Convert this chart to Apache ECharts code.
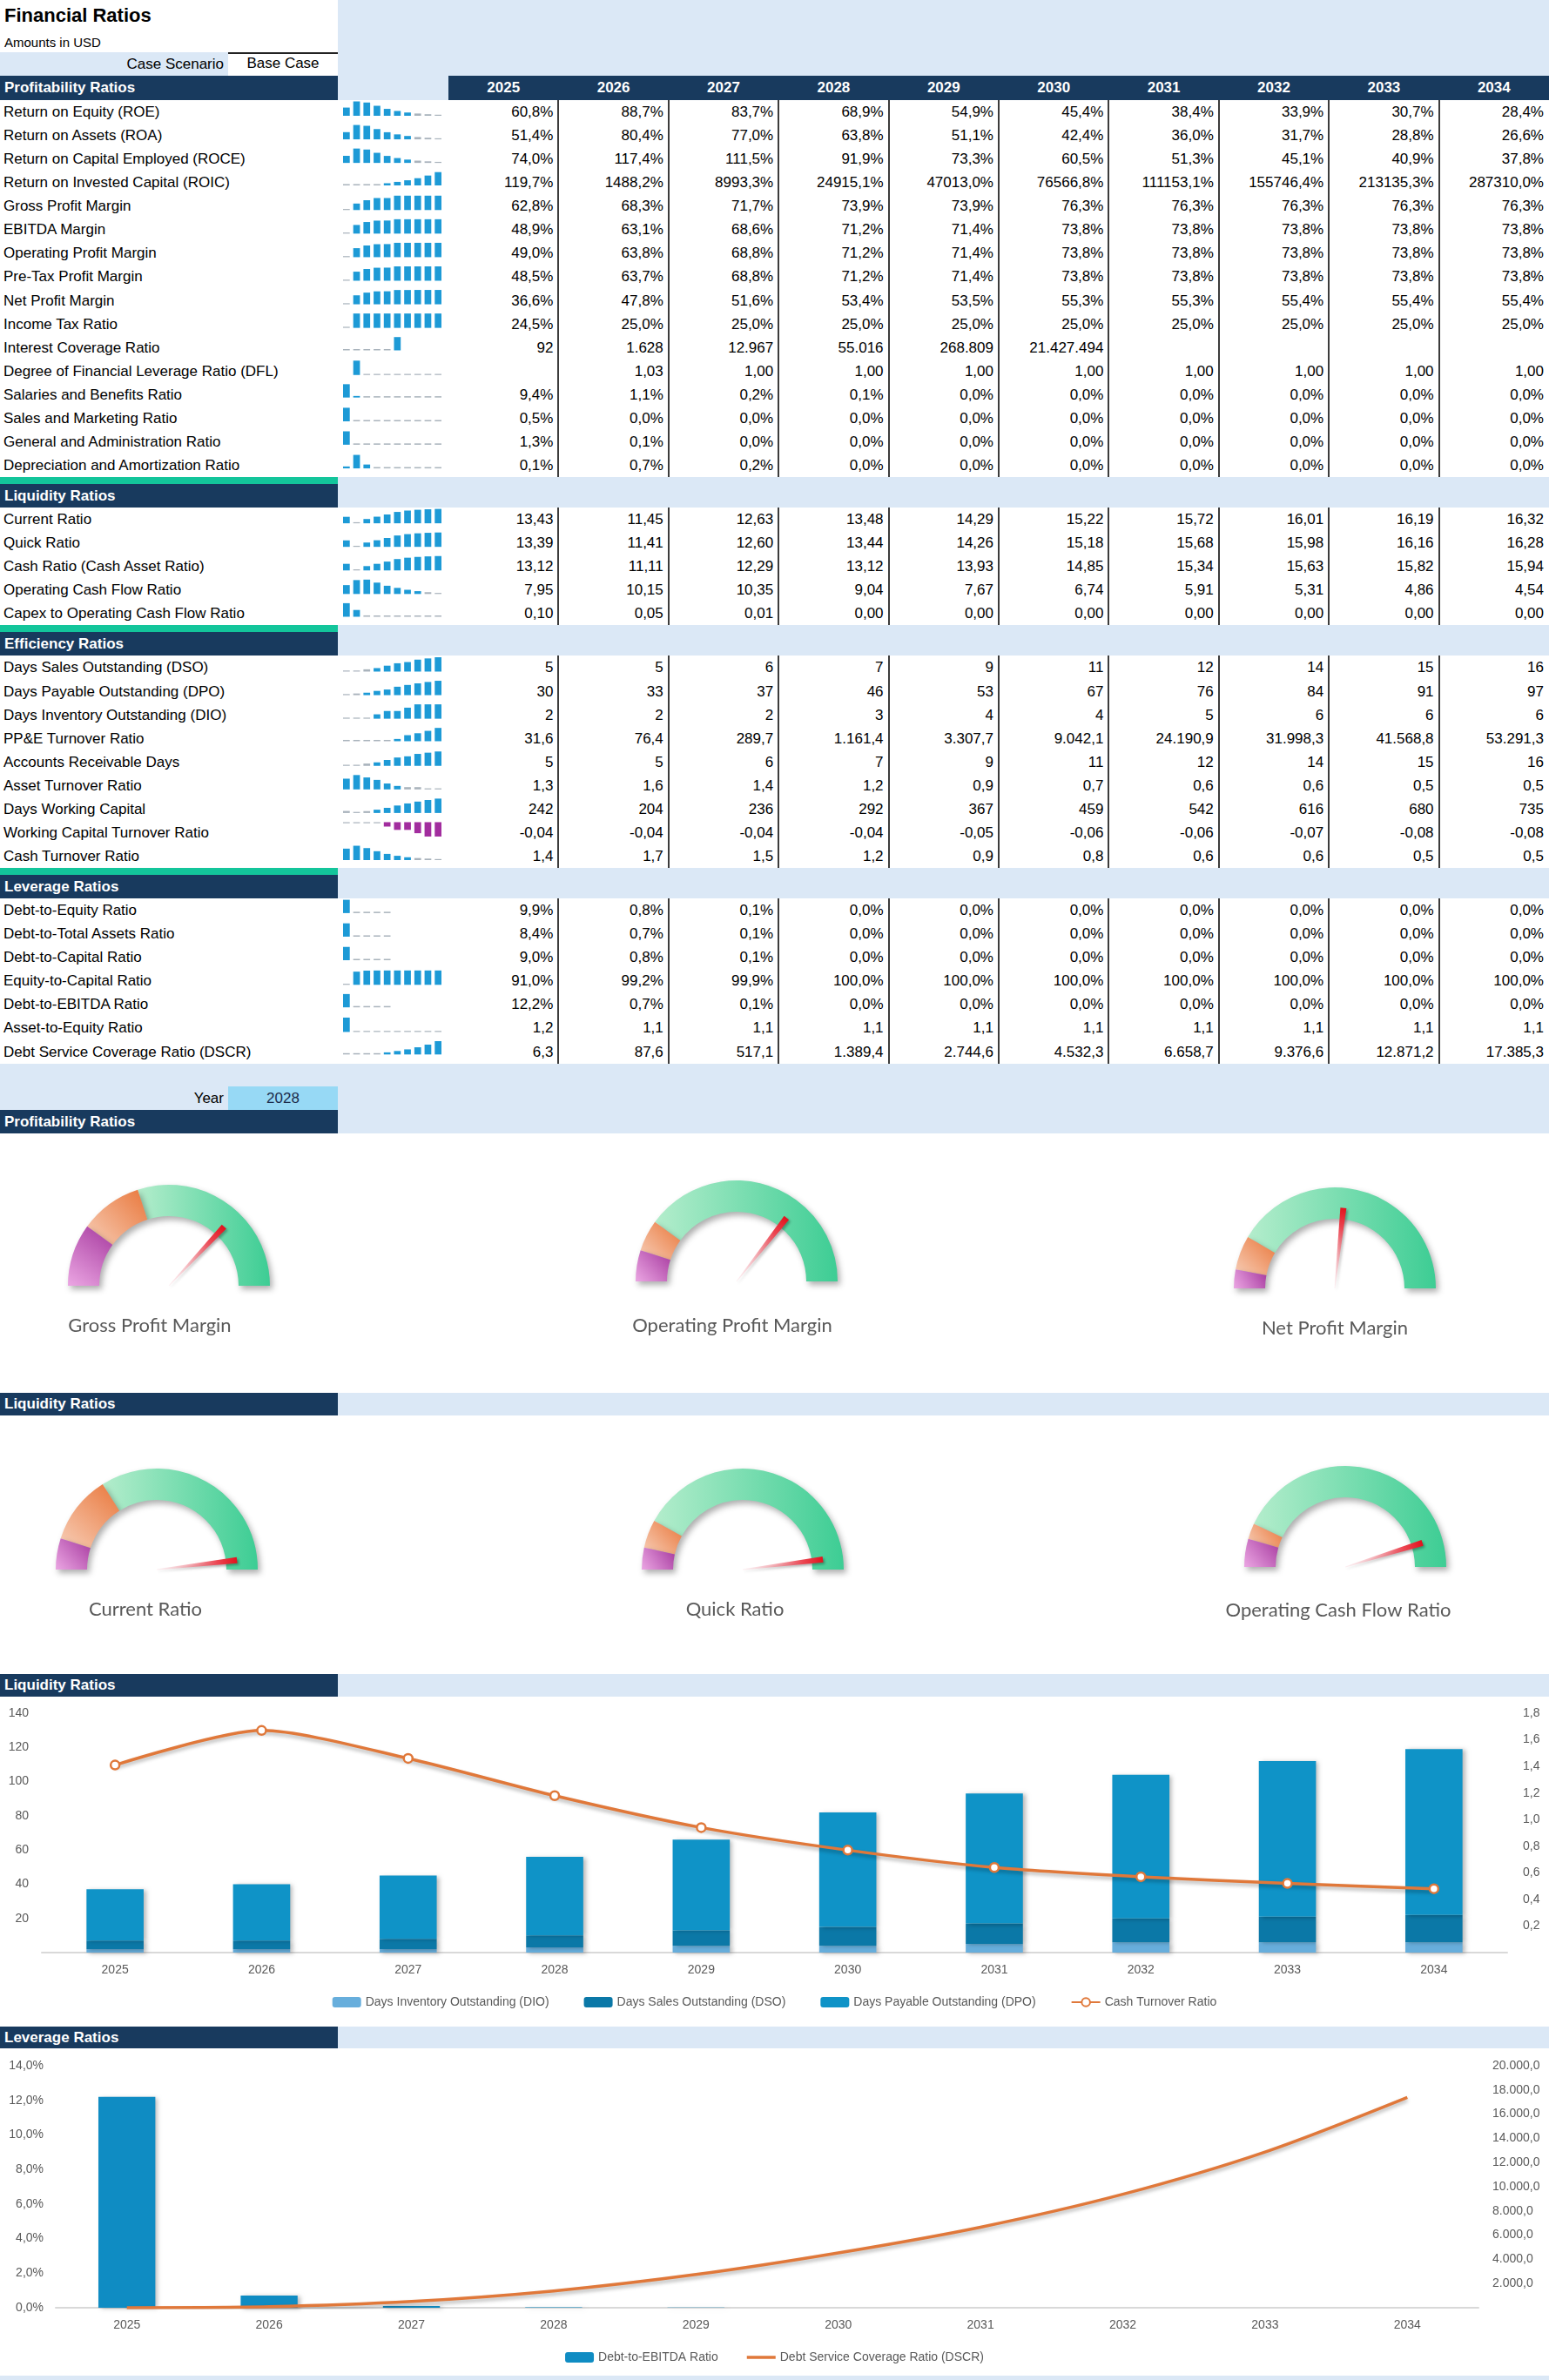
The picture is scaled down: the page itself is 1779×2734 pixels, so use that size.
<!DOCTYPE html>
<html>
<head>
<meta charset="utf-8">
<title>Financial Ratios</title>
<script src="https://cdn.jsdelivr.net/npm/echarts@6/dist/echarts.min.js"></script>
<style>
  html, body { margin: 0; padding: 0; background: #fff; }
  #page { position: relative; width: 1779px; height: 2734px; overflow: hidden;
    font-family: "Liberation Sans Narrow", "Liberation Sans", Arial, sans-serif; color: #000; }
  .abs { position: absolute; box-sizing: border-box; white-space: nowrap; overflow: visible; }
  #chart { position: absolute; left: 0; top: 0; width: 1779px; height: 2734px; z-index: 5; }
</style>
</head>
<body>
<div id="page"><div id="chart"></div></div>
<script>
// ---- data ----
const years = ['2025', '2026', '2027', '2028', '2029', '2030', '2031', '2032', '2033', '2034'];
const selectedYear = '2028';

// profitability
const roe = [60.8, 88.7, 83.7, 68.9, 54.9, 45.4, 38.4, 33.9, 30.7, 28.4];
const roa = [51.4, 80.4, 77.0, 63.8, 51.1, 42.4, 36.0, 31.7, 28.8, 26.6];
const roce = [74.0, 117.4, 111.5, 91.9, 73.3, 60.5, 51.3, 45.1, 40.9, 37.8];
const roic = [119.7, 1488.2, 8993.3, 24915.1, 47013.0, 76566.8, 111153.1, 155746.4, 213135.3, 287310.0];
const grossMargin = [62.8, 68.3, 71.7, 73.9, 73.9, 76.3, 76.3, 76.3, 76.3, 76.3];
const ebitdaMargin = [48.9, 63.1, 68.6, 71.2, 71.4, 73.8, 73.8, 73.8, 73.8, 73.8];
const operatingMargin = [49.0, 63.8, 68.8, 71.2, 71.4, 73.8, 73.8, 73.8, 73.8, 73.8];
const preTaxMargin = [48.5, 63.7, 68.8, 71.2, 71.4, 73.8, 73.8, 73.8, 73.8, 73.8];
const netMargin = [36.6, 47.8, 51.6, 53.4, 53.5, 55.3, 55.3, 55.4, 55.4, 55.4];
const incomeTax = [24.5, 25.0, 25.0, 25.0, 25.0, 25.0, 25.0, 25.0, 25.0, 25.0];
const interestCoverage = [92, 1628, 12967, 55016, 268809, 21427494, null, null, null, null];
const dfl = [null, 1.03, 1.00, 1.00, 1.00, 1.00, 1.00, 1.00, 1.00, 1.00];
const salariesRatio = [9.4, 1.1, 0.2, 0.1, 0.04, 0.03, 0.03, 0.02, 0.02, 0.02];
const salesMarketing = [0.5, 0.02, 0.01, 0.01, 0.01, 0.01, 0.01, 0.01, 0.01, 0.01];
const adminRatio = [1.3, 0.1, 0.03, 0.02, 0.02, 0.01, 0.01, 0.01, 0.01, 0.01];
const deprRatio = [0.1, 0.7, 0.2, 0.03, 0.02, 0.02, 0.01, 0.01, 0.01, 0.01];

// liquidity
const currentRatio = [13.43, 11.45, 12.63, 13.48, 14.29, 15.22, 15.72, 16.01, 16.19, 16.32];
const quickRatio = [13.39, 11.41, 12.60, 13.44, 14.26, 15.18, 15.68, 15.98, 16.16, 16.28];
const cashRatio = [13.12, 11.11, 12.29, 13.12, 13.93, 14.85, 15.34, 15.63, 15.82, 15.94];
const ocfRatio = [7.95, 10.15, 10.35, 9.04, 7.67, 6.74, 5.91, 5.31, 4.86, 4.54];
const capexOcf = [0.10, 0.05, 0.01, 0.004, 0.003, 0.003, 0.002, 0.002, 0.002, 0.002];

// efficiency
const dso = [5, 5, 6, 7, 9, 11, 12, 14, 15, 16];
const dpo = [30, 33, 37, 46, 53, 67, 76, 84, 91, 97];
const dio = [2, 2, 2, 3, 4, 4, 5, 6, 6, 6];
const ppeTurnover = [31.6, 76.4, 289.7, 1161.4, 3307.7, 9042.1, 24190.9, 31998.3, 41568.8, 53291.3];
const arDays = [5, 5, 6, 7, 9, 11, 12, 14, 15, 16];
const assetTurnover = [1.3, 1.6, 1.4, 1.2, 0.9, 0.7, 0.6, 0.6, 0.5, 0.5];
const daysWorkingCapital = [242, 204, 236, 292, 367, 459, 542, 616, 680, 735];
const wcTurnover = [-0.04, -0.04, -0.04, -0.04, -0.05, -0.06, -0.06, -0.07, -0.08, -0.08];
const cashTurnover = [1.41, 1.67, 1.46, 1.18, 0.94, 0.77, 0.64, 0.57, 0.52, 0.48];

// leverage
const debtEquity = [9.9, 0.8, 0.1, 0.02, 0.01, 0, 0, 0, 0, 0];
const debtAssets = [8.4, 0.7, 0.1, 0.02, 0.01, 0, 0, 0, 0, 0];
const debtCapital = [9.0, 0.8, 0.1, 0.02, 0.01, 0, 0, 0, 0, 0];
const equityCapital = [91.0, 99.2, 99.9, 99.98, 99.99, 100, 100, 100, 100, 100];
const debtEbitda = [12.2, 0.7, 0.1, 0.02, 0.01, 0, 0, 0, 0, 0];
const assetEquity = [1.2, 1.1, 1.1, 1.1, 1.1, 1.1, 1.1, 1.1, 1.1, 1.1];
const dscr = [6.3, 87.6, 517.1, 1389.4, 2744.6, 4532.3, 6658.7, 9376.6, 12871.2, 17385.3];

const sections = [
  ['Profitability Ratios', [
    ['Return on Equity (ROE)', roe, 'pct'],
    ['Return on Assets (ROA)', roa, 'pct'],
    ['Return on Capital Employed (ROCE)', roce, 'pct'],
    ['Return on Invested Capital (ROIC)', roic, 'pct'],
    ['Gross Profit Margin', grossMargin, 'pct'],
    ['EBITDA Margin', ebitdaMargin, 'pct'],
    ['Operating Profit Margin', operatingMargin, 'pct'],
    ['Pre-Tax Profit Margin', preTaxMargin, 'pct'],
    ['Net Profit Margin', netMargin, 'pct'],
    ['Income Tax Ratio', incomeTax, 'pct'],
    ['Interest Coverage Ratio', interestCoverage, 'int'],
    ['Degree of Financial Leverage Ratio (DFL)', dfl, 'dec2'],
    ['Salaries and Benefits Ratio', salariesRatio, 'pct'],
    ['Sales and Marketing Ratio', salesMarketing, 'pct'],
    ['General and Administration Ratio', adminRatio, 'pct'],
    ['Depreciation and Amortization Ratio', deprRatio, 'pct']
  ]],
  ['Liquidity Ratios', [
    ['Current Ratio', currentRatio, 'dec2'],
    ['Quick Ratio', quickRatio, 'dec2'],
    ['Cash Ratio (Cash Asset Ratio)', cashRatio, 'dec2'],
    ['Operating Cash Flow Ratio', ocfRatio, 'dec2'],
    ['Capex to Operating Cash Flow Ratio', capexOcf, 'dec2']
  ]],
  ['Efficiency Ratios', [
    ['Days Sales Outstanding (DSO)', dso, 'int'],
    ['Days Payable Outstanding (DPO)', dpo, 'int'],
    ['Days Inventory Outstanding (DIO)', dio, 'int'],
    ['PP&E Turnover Ratio', ppeTurnover, 'dec1'],
    ['Accounts Receivable Days', arDays, 'int'],
    ['Asset Turnover Ratio', assetTurnover, 'dec1'],
    ['Days Working Capital', daysWorkingCapital, 'int'],
    ['Working Capital Turnover Ratio', wcTurnover, 'dec2'],
    ['Cash Turnover Ratio', cashTurnover, 'dec1']
  ]],
  ['Leverage Ratios', [
    ['Debt-to-Equity Ratio', debtEquity, 'pct'],
    ['Debt-to-Total Assets Ratio', debtAssets, 'pct'],
    ['Debt-to-Capital Ratio', debtCapital, 'pct'],
    ['Equity-to-Capital Ratio', equityCapital, 'pct'],
    ['Debt-to-EBITDA Ratio', debtEbitda, 'pct'],
    ['Asset-to-Equity Ratio', assetEquity, 'dec1'],
    ['Debt Service Coverage Ratio (DSCR)', dscr, 'dec1']
  ]]
];

// gauges (values taken from the selected year column)
const gaugeNames = ['Gross Profit Margin', 'Operating Profit Margin', 'Net Profit Margin',
  'Current Ratio', 'Quick Ratio', 'Operating Cash Flow Ratio'];
const gaugeSources = [grossMargin, operatingMargin, netMargin, currentRatio, quickRatio, ocfRatio];
const gaugeMax = [100, 100, 100, 14, 14, 10];
const gaugeBands = [[0.2, 0.4], [0.1, 0.2], [0.06, 0.17], [0.1, 0.32], [0.07, 0.16], [0.09, 0.14]];

// ---- helpers ----
function fmt(v, dec, sep) {
  if (v === null || v === undefined) return '';
  const neg = v < 0;
  const parts = Math.abs(v).toFixed(dec).split('.');
  let i = parts[0];
  if (sep) i = i.replace(/\B(?=(\d{3})+(?!\d))/g, '.');
  return (neg ? '-' : '') + i + (parts[1] ? ',' + parts[1] : '');
}
const formats = {
  pct: v => v == null ? '' : fmt(v, 1, false) + '%',
  int: v => fmt(v, 0, true),
  dec1: v => fmt(v, 1, true),
  dec2: v => fmt(v, 2, true)
};

const W = 1779, LABEL_W = 388, COL0 = 515, COL_W = 126.4, ROW_H = 27.07;
const SPARK_X = 392, SPARK_W = 117, SPARK_H = 16.5;
const LIGHT = '#dbe8f6', NAVY = '#183a5e', TEAL = '#13c59b', SKY = '#97d9f5';
const FONT = '"Liberation Sans Narrow", "Liberation Sans", Arial, sans-serif';

const page = document.getElementById('page');
function el(x, y, w, h, style, txt) {
  const d = document.createElement('div');
  d.className = 'abs';
  Object.assign(d.style, { left: x + 'px', top: y + 'px', width: w + 'px', height: h + 'px' }, style || {});
  if (txt != null) d.textContent = txt;
  page.insertBefore(d, document.getElementById('chart'));
  return d;
}
function cellText(x, y, w, h, txt, extra) {
  return el(x, y, w, h, Object.assign({ lineHeight: h + 'px', fontSize: '17px' }, extra || {}), txt);
}
function navyLabel(y, h, txt) {
  el(0, y, LABEL_W, h, { background: NAVY });
  cellText(5, y, LABEL_W - 5, h, txt, { color: '#fff', fontWeight: 'bold' });
}

// ---- top header ----
el(LABEL_W, 0, W - LABEL_W, 87, { background: LIGHT });
cellText(5, 3, 380, 30, 'Financial Ratios', { fontSize: '22px', fontWeight: 'bold' });
cellText(5, 39, 380, 20, 'Amounts in USD', { fontSize: '15px' });
el(0, 60, 262, 27, { background: LIGHT });
cellText(0, 60, 257, 27, 'Case Scenario', { textAlign: 'right' });
el(262, 60, 126, 27, { background: '#fff', borderTop: '2px solid #222' });
cellText(262, 60, 126, 26, 'Base Case', { textAlign: 'center' });

// ---- table ----
const sparkGrids = [], sparkX = [], sparkY = [], sparkSeries = [];
function addSpark(values, top) {
  const idx = sparkGrids.length;
  const vals = values.filter(v => v != null && v !== 0);
  const lo = Math.min.apply(null, vals), hi = Math.max.apply(null, vals);
  const neg = hi < 0;
  const span = (hi - lo) || 1;
  sparkGrids.push({ left: SPARK_X, top: top, width: SPARK_W, height: SPARK_H, outerBoundsMode: 'none' });
  sparkX.push({ type: 'category', gridIndex: idx, data: years, show: false });
  sparkY.push({ type: 'value', gridIndex: idx, show: false, splitLine: { show: false },
    min: neg ? lo : lo - span * 0.08, max: neg ? hi + span * 0.08 : hi });
  sparkSeries.push({
    type: 'bar', xAxisIndex: idx, yAxisIndex: idx, clip: true, silent: true,
    barWidth: '66%', barMinHeight: 1.5,
    data: values.map(v => (v == null || v === 0) ? '-' : v),
    itemStyle: {
      color: function (p) {
        const r = neg ? (hi - p.value) / span : (p.value - lo) / span;
        if (r < 0.1) return '#a9b3bc';
        return neg ? '#a22d9e' : '#1d9ad6';
      }
    }
  });
}

let y = 87;
sections.forEach(function (sec, si) {
  const title = sec[0], rows = sec[1];
  if (si === 0) {
    navyLabel(y, 28, title);
    el(LABEL_W, y, COL0 - LABEL_W, 28, { background: LIGHT });
    el(COL0, y, W - COL0, 28, { background: NAVY });
    years.forEach(function (yr, k) {
      cellText(COL0 + k * COL_W, y, COL_W, 28, yr, { color: '#fff', fontWeight: 'bold', textAlign: 'center' });
    });
    y += 28;
  } else {
    el(0, y, LABEL_W, 8, { background: TEAL });
    el(LABEL_W, y, W - LABEL_W, 35, { background: LIGHT });
    navyLabel(y + 8, 27, title);
    y += 35;
  }
  rows.forEach(function (row, j) {
    const top = y + j * ROW_H;
    cellText(4, top, LABEL_W - 4, ROW_H, row[0]);
    row[1].forEach(function (v, k) {
      cellText(COL0 + k * COL_W, top, COL_W - 6, ROW_H, formats[row[2]](v), { textAlign: 'right' });
    });
    addSpark(row[1], top + 1.5);
  });
  for (let k = 1; k < years.length; k++) {
    el(COL0 + k * COL_W - 1, y, 2, rows.length * ROW_H, { background: '#3c3c3c' });
  }
  y += rows.length * ROW_H;
});

// ---- dashboard headers ----
el(0, 1222, W, 80, { background: LIGHT });
cellText(0, 1248, 257, 27, 'Year', { textAlign: 'right' });
el(262, 1248, 126, 27, { background: SKY });
cellText(262, 1248, 126, 27, selectedYear, { textAlign: 'center', color: '#1c2c4c' });
navyLabel(1275, 27, 'Profitability Ratios');

el(0, 1600, W, 26, { background: LIGHT });
navyLabel(1600, 26, 'Liquidity Ratios');

el(0, 1923, W, 26, { background: LIGHT });
navyLabel(1923, 26, 'Liquidity Ratios');

el(0, 2328, W, 25, { background: LIGHT });
navyLabel(2328, 25, 'Leverage Ratios');

el(0, 2729, W, 5, { background: LIGHT });

// ---- echarts ----
const chart = echarts.init(document.getElementById('chart'), null, { renderer: 'canvas', width: 1779, height: 2734 });
const G = echarts.graphic;

const axisText = { color: '#595959', fontSize: 14, fontFamily: FONT };
const orange = '#e0783a';
const barShadow = { shadowBlur: 5, shadowColor: 'rgba(0,0,0,0.28)', shadowOffsetX: 3, shadowOffsetY: 1 };

const gLiq = sparkGrids.length, gLev = gLiq + 1;
const grids = sparkGrids.concat([
  { left: 48, top: 1968, width: 1683, height: 275, outerBoundsMode: 'none' },
  { left: 64, top: 2373, width: 1634, height: 278, outerBoundsMode: 'none' }
]);
const catAxis = function (gi) {
  return {
    type: 'category', gridIndex: gi, data: years, boundaryGap: true,
    axisLine: { show: true, lineStyle: { color: '#d9d9d9', width: 2 } },
    axisTick: { show: false }, axisLabel: Object.assign({ margin: 13 }, axisText), splitLine: { show: false }
  };
};
const xAxes = sparkX.concat([catAxis(gLiq), catAxis(gLev)]);
const yAxes = sparkY.concat([
  { type: 'value', gridIndex: gLiq, position: 'left', min: 0, max: 140, interval: 20,
    axisLine: { show: false }, axisTick: { show: false }, splitLine: { show: false },
    axisLabel: Object.assign({ margin: 15, formatter: v => v === 0 ? '' : String(v) }, axisText) },
  { type: 'value', gridIndex: gLiq, position: 'right', min: 0, max: 1.8, interval: 0.2,
    axisLine: { show: false }, axisTick: { show: false }, splitLine: { show: false },
    axisLabel: Object.assign({ margin: 18, formatter: v => v < 0.01 ? '' : fmt(v, 1, true) }, axisText) },
  { type: 'value', gridIndex: gLev, position: 'left', min: 0, max: 14, interval: 2,
    axisLine: { show: false }, axisTick: { show: false }, splitLine: { show: false },
    axisLabel: Object.assign({ margin: 14, formatter: v => fmt(v, 1, true) + '%' }, axisText) },
  { type: 'value', gridIndex: gLev, position: 'right', min: 0, max: 20000, interval: 2000,
    axisLine: { show: false }, axisTick: { show: false }, splitLine: { show: false },
    axisLabel: Object.assign({ margin: 16, formatter: v => v === 0 ? '' : fmt(v, 1, true) }, axisText) }
]);
const yLiqL = gLiq, yLiqR = gLiq + 1, yLevL = gLiq + 2, yLevR = gLiq + 3;

const chartSeries = [
  { name: 'Days Inventory Outstanding (DIO)', type: 'bar', stack: 'days', xAxisIndex: gLiq, yAxisIndex: yLiqL,
    barWidth: '39%', data: dio, itemStyle: Object.assign({ color: '#67aedc' }, barShadow) },
  { name: 'Days Sales Outstanding (DSO)', type: 'bar', stack: 'days', xAxisIndex: gLiq, yAxisIndex: yLiqL,
    data: dso, itemStyle: Object.assign({ color: '#0b78a7' }, barShadow) },
  { name: 'Days Payable Outstanding (DPO)', type: 'bar', stack: 'days', xAxisIndex: gLiq, yAxisIndex: yLiqL,
    data: dpo, itemStyle: Object.assign({ color: '#0f93c7' }, barShadow) },
  { name: 'Cash Turnover Ratio', type: 'line', xAxisIndex: gLiq, yAxisIndex: yLiqR, data: cashTurnover,
    smooth: 0.25, symbol: 'circle', symbolSize: 10, z: 5,
    lineStyle: { color: orange, width: 3.5, shadowBlur: 4, shadowColor: 'rgba(0,0,0,0.3)', shadowOffsetY: 3 },
    itemStyle: { color: '#fff', borderColor: orange, borderWidth: 2.5 } },
  { name: 'Debt-to-EBITDA Ratio', type: 'bar', xAxisIndex: gLev, yAxisIndex: yLevL, barWidth: '40%',
    data: debtEbitda, itemStyle: Object.assign({ color: '#0f8cc3' }, barShadow) },
  { name: 'Debt Service Coverage Ratio (DSCR)', type: 'line', xAxisIndex: gLev, yAxisIndex: yLevR, data: dscr,
    smooth: 0.3, symbol: 'none', showSymbol: false, z: 5,
    lineStyle: { color: orange, width: 3.5, shadowBlur: 4, shadowColor: 'rgba(0,0,0,0.3)', shadowOffsetY: 3 },
    itemStyle: { color: orange } }
];

// gauges
const gaugeLayout = [
  { c: [194, 1477], t: [-22, 46] }, { c: [846, 1472], t: [-5, 51] }, { c: [1533, 1480], t: [0, 46] },
  { c: [180, 1803], t: [-13, 46] }, { c: [853, 1803], t: [-9, 46] }, { c: [1545, 1800], t: [-8, 50] }
];
const selIdx = years.indexOf(selectedYear);
const purpleFill = new G.LinearGradient(0, 1, 1, 0, [{ offset: 0, color: '#eba6e3' }, { offset: 1, color: '#a6399e' }]);
const orangeFill = new G.LinearGradient(0, 1, 1, 0, [{ offset: 0, color: '#f7cdb6' }, { offset: 1, color: '#e9773b' }]);
const greenFill = new G.LinearGradient(0, 0, 1, 0, [{ offset: 0, color: '#b4edcc' }, { offset: 1, color: '#3dcd94' }]);
const needleFill = new G.LinearGradient(0, 0, 0, 1, [
  { offset: 0, color: '#e1131d' }, { offset: 0.25, color: '#ec4753' }, { offset: 1, color: 'rgba(248,200,210,0.25)' }]);
const gaugeSeries = gaugeNames.map(function (name, i) {
  const L = gaugeLayout[i];
  return {
    type: 'gauge', center: L.c, radius: 116, startAngle: 180, endAngle: 0,
    min: 0, max: gaugeMax[i], silent: true,
    axisLine: { lineStyle: { width: 36,
      color: [[gaugeBands[i][0], purpleFill], [gaugeBands[i][1], orangeFill], [1, greenFill]],
      shadowBlur: 7, shadowColor: 'rgba(0,0,0,0.32)', shadowOffsetX: 3, shadowOffsetY: 4 } },
    progress: { show: false }, axisTick: { show: false }, splitLine: { show: false }, axisLabel: { show: false },
    anchor: { show: false },
    pointer: { show: true, icon: 'path://M0 0 L10 0 L5.6 100 L4.4 100 Z', keepAspect: false,
      length: '80%', width: 7, offsetCenter: [0, 0],
      itemStyle: { color: needleFill, shadowBlur: 3, shadowColor: 'rgba(0,0,0,0.3)', shadowOffsetX: 2, shadowOffsetY: 2 } },
    title: { show: true, offsetCenter: L.t, color: '#595959', fontSize: 22, fontFamily: 'Lato, "Noto Sans", sans-serif' },
    detail: { show: false },
    data: [{ value: gaugeSources[i][selIdx], name: name }]
  };
});

// plain line legend icon (bounding box kept full height so the stroke stays thin)
const lineIcon = 'path://M0 0 L0.01 0 L0 0.01 Z M0 36 L100 36 L100 64 L0 64 Z M0 100 L0.01 100 L0 99.99 Z';
const legendText = { color: '#595959', fontSize: 14, fontFamily: FONT };
chart.setOption({
  animation: false,
  backgroundColor: 'transparent',
  textStyle: { fontFamily: FONT },
  grid: grids,
  xAxis: xAxes,
  yAxis: yAxes,
  legend: [
    { left: 'center', top: 2288, itemWidth: 33, itemHeight: 12, itemGap: 40, textStyle: legendText,
      data: ['Days Inventory Outstanding (DIO)', 'Days Sales Outstanding (DSO)', 'Days Payable Outstanding (DPO)', 'Cash Turnover Ratio'] },
    { left: 'center', top: 2696, itemWidth: 33, itemHeight: 12, itemGap: 33, textStyle: legendText,
      symbolKeepAspect: false,
      data: ['Debt-to-EBITDA Ratio',
        { name: 'Debt Service Coverage Ratio (DSCR)', icon: lineIcon, itemStyle: { color: orange } }] }
  ],
  series: sparkSeries.concat(chartSeries, gaugeSeries)
});
</script>
</body>
</html>
